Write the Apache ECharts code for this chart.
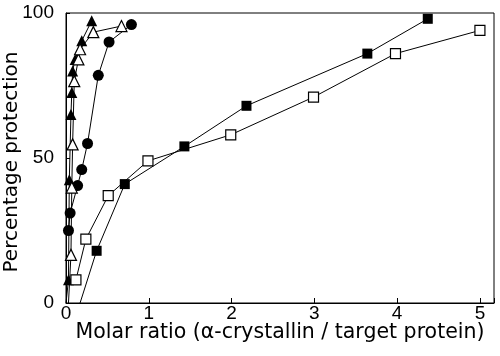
<!DOCTYPE html>
<html>
<head>
<meta charset="utf-8">
<script src="https://cdn.jsdelivr.net/npm/echarts@6/dist/echarts.min.js"></script>
<style>html,body{margin:0;padding:0;background:#fff;}#c{width:500px;height:356px;}</style>
</head>
<body>
<div id="c"></div>
<script>
// Data
const filledTriX = [0.00, 0.03, 0.04, 0.06, 0.07, 0.08, 0.11, 0.19, 0.31];
const filledTriY = [0, 8, 42.5, 65, 72.6, 80, 84, 90.4, 97.3];
const openTriX = [0.03, 0.06, 0.07, 0.08, 0.10, 0.15, 0.17, 0.33, 0.67];
const openTriY = [0, 16.6, 39.8, 54.7, 76.5, 84, 87.5, 93.4, 95.5];
const circleX = [0.03, 0.05, 0.14, 0.19, 0.26, 0.39, 0.52, 0.79];
const circleY = [25, 31, 40.5, 46, 55, 78.5, 90, 96];
const openSqX = [0.12, 0.24, 0.51, 0.99, 1.99, 2.99, 3.98, 5.0];
const openSqY = [8, 22, 37, 49, 58, 71, 86, 94];
const filledSqX = [0.17, 0.37, 0.71, 1.43, 2.18, 3.64, 4.37];
const filledSqY = [0, 18, 41, 54, 68, 86, 98];
const xTicks = [0, 1, 2, 3, 4, 5];
const yTicks = [0, 50, 100];

const FONT = 'Arial, "Liberation Sans", sans-serif';
const TITLE_FONT = '"DejaVu Sans", sans-serif';
function pts(xs, ys, hideFirstZero) {
  return xs.map((x, i) => {
    const d = {value: [x, ys[i]]};
    if (hideFirstZero && ys[i] === 0) d.symbolSize = 0;
    return d;
  });
}
function mk(name, xs, ys, symbol, size, filled) {
  return {
    name, type: 'line', data: pts(xs, ys, true), symbol, symbolSize: size,
    showSymbol: true, clip: false, z: filled ? 3 : 4,
    lineStyle: {color: '#000', width: 1},
    itemStyle: {color: filled ? '#000' : '#fff', borderColor: '#000', borderWidth: filled ? 0 : 1.2},
    emphasis: {disabled: true}, animation: false
  };
}
const chart = echarts.init(document.getElementById('c'), null, {renderer: 'canvas'});
chart.setOption({
  backgroundColor: '#fff',
  animation: false,
  grid: {left: 66, right: 6, top: 13, bottom: 53, containLabel: false, outerBoundsMode: 'none',
    show: true, borderColor: '#000', borderWidth: 1, backgroundColor: 'transparent'},
  xAxis: {
    type: 'value', min: 0, max: 5.17, interval: 1,
    name: 'Molar ratio (\u03b1-crystallin / target protein)', nameLocation: 'middle', nameGap: 19,
    nameMoveOverlap: false,
    nameTextStyle: {fontFamily: TITLE_FONT, fontSize: 20.5, color: '#000', verticalAlign: 'top'},
    axisLine: {show: true, lineStyle: {color: '#000', width: 1}},
    axisTick: {show: true, inside: true, length: 5, lineStyle: {color: '#000'}},
    axisLabel: {fontFamily: FONT, fontSize: 19, color: '#000', margin: 1,
      formatter: v => xTicks.includes(v) ? String(v) : ''},
    splitLine: {show: false}
  },
  yAxis: {
    type: 'value', min: 0, max: 100, interval: 50,
    name: 'Percentage protection', nameLocation: 'middle', nameGap: 44,
    nameMoveOverlap: false,
    nameTextStyle: {fontFamily: TITLE_FONT, fontSize: 20, color: '#000', verticalAlign: 'bottom',
      padding: [0, 8, 0, 0]},
    axisLine: {show: true, lineStyle: {color: '#000', width: 1}},
    axisTick: {show: true, inside: true, length: 4, lineStyle: {color: '#000'}},
    axisLabel: {fontFamily: FONT, fontSize: 19, color: '#000', margin: 12,
      formatter: v => yTicks.includes(v) ? String(v) : ''},
    splitLine: {show: false}
  },
  series: [
    mk('filledSquare', filledSqX, filledSqY, 'rect', 10, true),
    mk('openSquare', openSqX, openSqY, 'rect', 10, false),
    mk('circle', circleX, circleY, 'circle', 11, true),
    mk('openTriangle', openTriX, openTriY, 'triangle', 11, false),
    mk('filledTriangle', filledTriX, filledTriY, 'triangle', 11, true)
  ]
});
</script>
</body>
</html>
